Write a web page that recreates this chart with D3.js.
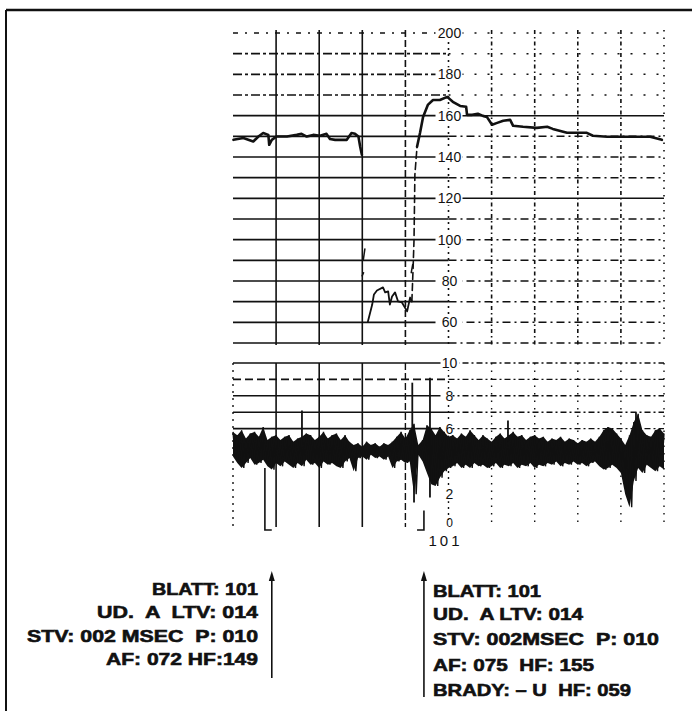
<!DOCTYPE html>
<html lang="de">
<head>
  <meta charset="UTF-8">
  <title>CTG Blatt 101</title>
  <style>
    body {
      margin: 0;
      padding: 0;
      background: #fff;
    }

    svg {
      display: block;
    }

    .lbl {
      font-family: "Liberation Sans", Arial, sans-serif;
      font-size: 14px;
      fill: #111;
    }

    .info {
      font-family: "Liberation Sans", Arial, sans-serif;
      font-weight: bold;
      font-size: 17px;
      fill: #111;
      stroke: #111;
      stroke-width: 0.6px;
      white-space: pre;
    }
  </style>
</head>
<body>
  <svg id="ctg" width="692" height="711"></svg>
  <script src="https://d3js.org/d3.v7.min.js"></script>
  <script>
    // time in minutes, one grid box = 1 min
    // FHR (bpm), before the bradycardia
    const fhrLeftT   = [0.01, 0.24, 0.47, 0.59, 0.70, 0.82, 0.84, 0.90, 1.01, 1.25, 1.48, 1.59, 1.71, 1.86, 2.02, 2.17, 2.25, 2.37, 2.64, 2.75, 2.83, 2.91, 2.95, 2.99];
    const fhrLeftBpm = [148.3, 149.2, 147.5, 149.9, 151.6, 150.7, 145.9, 148.3, 149.9, 149.9, 150.7, 151.2, 149.9, 150.7, 150.3, 151.2, 148.7, 148.3, 148.3, 151.6, 151.2, 149.9, 145.1, 141.1];

    // bradycardia episode
    const bradyT   = [3.13, 3.23, 3.27, 3.34, 3.48, 3.53, 3.60, 3.64, 3.69, 3.76, 3.83, 3.92, 4.04, 4.11, 4.15];
    const bradyBpm = [60.4, 68.6, 73.5, 75.4, 76.9, 74.5, 75.0, 68.6, 72.5, 74.5, 70.1, 69.6, 65.3, 72.0, 70.1];

    // recovery (dashed part of the rise)
    const riseT   = [4.15, 4.18, 4.20, 4.22, 4.27];
    const riseBpm = [70.1, 87.0, 100.0, 131.4, 145.0];

    // FHR after recovery
    const fhrRightT   = [4.27, 4.34, 4.41, 4.52, 4.64, 4.80, 4.97, 5.10, 5.27, 5.41, 5.43, 5.55, 5.68, 5.80, 5.89, 6.01, 6.13, 6.27, 6.43, 6.50, 6.73, 7.05, 7.29, 7.42, 7.75, 7.98, 8.21, 8.35, 8.68, 9.14, 9.68, 9.95];
    const fhrRightBpm = [145.0, 151.7, 159.4, 165.2, 167.6, 167.6, 169.1, 166.7, 164.7, 164.3, 160.4, 160.4, 160.9, 159.9, 159.4, 155.6, 156.5, 157.5, 158.0, 155.1, 154.6, 154.1, 154.6, 153.6, 151.7, 151.7, 151.7, 150.3, 149.8, 149.8, 149.8, 148.3];

    // stray artefact strokes [t, bpm from, bpm to]
    const fhrArtefacts = [[3.06, 95.5, 90.5], [3.03, 84.0, 82.5], [4.17, 88.0, 84.0]];

    // short term variation band, one sample every 0.1 min
    const stvHi = [5.8, 5.6, 5.9, 5.4, 5.7, 5.8, 5.5, 6.1, 5.3, 5.5,
                   5.6, 5.3, 5.5, 5.6, 5.2, 5.4, 5.5, 5.7, 5.6, 5.3,
                   5.5, 5.8, 5.4, 5.6, 5.7, 5.3, 5.6, 5.2, 5.0, 5.1,
                   4.9, 5.2, 5.0, 5.1, 4.9, 5.1, 5.0, 5.2, 5.5, 5.8,
                   5.4, 5.9, 6.3, 5.0, 5.3, 6.2, 6.0, 5.6, 6.1, 5.8,
                   5.5, 5.6, 5.4, 5.7, 5.5, 5.9, 5.6, 5.3, 5.6, 5.4,
                   5.2, 5.5, 5.7, 5.4, 5.6, 5.8, 5.5, 5.6, 5.3, 5.5,
                   5.6, 5.4, 5.5, 5.2, 5.4, 5.3, 5.5, 5.2, 5.4, 5.3,
                   5.1, 5.3, 5.2, 5.4, 5.2, 5.5, 5.9, 6.1, 6.0, 5.7,
                   5.4, 5.0, 5.6, 6.4, 6.9, 5.9, 5.6, 5.5, 5.9, 6.0,
                   5.7];
    const stvLo = [4.3, 3.9, 3.6, 3.9, 4.2, 3.8, 3.9, 4.1, 3.7, 3.5,
                   3.9, 3.7, 4.0, 3.8, 3.6, 3.9, 3.7, 4.1, 3.8, 3.9,
                   3.6, 4.0, 3.8, 3.9, 3.7, 3.6, 4.0, 4.2, 3.4, 4.2,
                   4.3, 4.1, 4.4, 4.2, 4.3, 4.1, 4.3, 3.6, 4.0, 4.1,
                   3.9, 4.0, 2.0, 4.4, 4.0, 3.3, 2.6, 2.5, 3.0, 3.4,
                   3.6, 3.7, 3.9, 3.6, 3.8, 3.6, 3.9, 3.7, 3.8, 3.6,
                   3.7, 3.9, 3.6, 3.8, 3.7, 3.9, 3.6, 3.8, 3.7, 3.9,
                   3.6, 3.8, 3.7, 3.9, 3.8, 4.0, 3.7, 3.9, 3.8, 4.0,
                   3.8, 3.9, 3.7, 3.9, 4.0, 3.7, 3.5, 3.6, 3.8, 3.6,
                   3.3, 2.0, 1.2, 2.8, 3.6, 3.3, 3.8, 3.6, 3.4, 3.7,
                   3.5];
    // single spikes [t, from, to]
    const stvSpikes = [[1.60, 5.0, 7.1], [4.16, 5.0, 8.8], [4.20, 1.5, 5.2], [4.57, 1.8, 9.1], [6.38, 5.2, 6.5], [9.35, 5.0, 7.0]];

    // event markers (time of the print-outs)
    const eventT = [0.90, 4.43];

    const fhrLabels = [200, 180, 160, 140, 120, 100, 80, 60];
    const stvLabels = [10, 8, 6, 4, 2, 0];
    const pageNo = '101';

    const leftInfo  = ['BLATT: 101', 'UD.  A  LTV: 014', 'STV: 002 MSEC  P: 010', 'AF: 072 HF:149'];
    const rightInfo = ['BLATT: 101', 'UD.  A LTV: 014', 'STV: 002MSEC  P: 010', 'AF: 075  HF: 155', 'BRADY: \u2013 U  HF: 059'];

    // layout
    const leftInfoW = [106, 161, 231, 152];
    const leftInfoY = [595, 618, 642, 665];
    const rightInfoW = [108, 150, 226, 161, 198];
    const rightInfoY = [597, 620, 645, 671, 696];
    const ink = '#111';

    const svg = d3.select('#ctg');

    const x = d3.scaleLinear().domain([0, 10]).range([233, 664]);
    const yFhr = d3.scaleLinear().domain([50, 200]).range([343, 33]);
    const yStv = d3.scaleLinear().domain([0, 10]).range([527, 363]);

    // frame
    svg.append('line').attr('x1', 6).attr('x2', 692).attr('y1', 10).attr('y2', 10)
      .attr('stroke', ink).attr('stroke-width', 2.5);
    svg.append('line').attr('x1', 6).attr('x2', 6).attr('y1', 10).attr('y2', 711)
      .attr('stroke', ink).attr('stroke-width', 2);

    // ---- upper grid (FHR)
    const grid = svg.append('g').attr('stroke', ink).attr('fill', 'none');

    const fhrLeftDash = v => v === 200 ? '5,7,2,7' : v > 160 ? '9,3,3,3' : null;
    const fhrRightDash = v => (v === 160 || v === 120) ? null : v >= 170 ? '2,11' : '8,4,2,4';

    yFhr.ticks(15).forEach(v => {
      grid.append('line')
        .attr('x1', x(0)).attr('x2', x(5))
        .attr('y1', yFhr(v)).attr('y2', yFhr(v))
        .attr('stroke-width', 1.6)
        .attr('stroke-dasharray', fhrLeftDash(v));
      grid.append('line')
        .attr('x1', x(5)).attr('x2', x(10))
        .attr('y1', yFhr(v)).attr('y2', yFhr(v))
        .attr('stroke-width', 1.5)
        .attr('stroke-dasharray', fhrRightDash(v));
    });

    const vDash = t => t <= 3 ? null : t === 4 ? '7,3' : t === 5 ? '2,4' : t === 10 ? '1.5,6' : '4,3,1.5,3';

    d3.range(1, 11).forEach(t => {
      grid.append('line')
        .attr('x1', x(t)).attr('x2', x(t))
        .attr('y1', yFhr(201.5)).attr('y2', yFhr(49))
        .attr('stroke-width', 1.6)
        .attr('stroke-dasharray', vDash(t));
    });

    // ---- lower grid (variation)
    [6, 7, 8, 9, 10].forEach(v => {
      grid.append('line')
        .attr('x1', x(0)).attr('x2', x(5))
        .attr('y1', yStv(v)).attr('y2', yStv(v))
        .attr('stroke-width', 1.6)
        .attr('stroke-dasharray', v === 9 ? '8,4' : null);
      grid.append('line')
        .attr('x1', x(5)).attr('x2', x(10))
        .attr('y1', yStv(v)).attr('y2', yStv(v))
        .attr('stroke-width', 1.4)
        .attr('stroke-dasharray', '6,3,2,3');
    });

    const vDashLow = t => t === 0 ? '2,5' : t <= 3 ? null : t === 4 ? '7,3' : t === 5 ? '2,4' : '1.5,6';

    d3.range(0, 11).forEach(t => {
      grid.append('line')
        .attr('x1', x(t)).attr('x2', x(t))
        .attr('y1', yStv(10)).attr('y2', yStv(0))
        .attr('stroke-width', t <= 3 && t > 0 ? 1.6 : 1.4)
        .attr('stroke-dasharray', vDashLow(t));
    });

    // ---- axis labels on the centre line
    const labels = svg.append('g');

    fhrLabels.forEach(v => {
      labels.append('rect')
        .attr('x', x(5) - 13).attr('y', yFhr(v) - 7)
        .attr('width', 27).attr('height', 14)
        .attr('fill', '#fff');
      labels.append('text')
        .attr('class', 'lbl')
        .attr('x', x(5) + 1).attr('y', yFhr(v))
        .attr('dy', '0.36em')
        .attr('text-anchor', 'middle')
        .text(v);
    });

    stvLabels.forEach(v => {
      labels.append('rect')
        .attr('x', x(5) - 8).attr('y', yStv(v) - 7)
        .attr('width', v === 10 ? 19 : 12).attr('height', 14)
        .attr('fill', '#fff');
      labels.append('text')
        .attr('class', 'lbl')
        .attr('x', x(5) + 1).attr('y', yStv(v) - (v === 0 ? 4 : 0))
        .attr('dy', '0.36em')
        .attr('text-anchor', 'middle')
        .style('font-size', v === 0 ? '12px' : null)
        .text(v);
    });

    labels.append('text')
      .attr('class', 'lbl')
      .attr('x', x(5) - 3).attr('y', yStv(0) + 19)
      .attr('text-anchor', 'middle')
      .attr('letter-spacing', 3)
      .style('font-size', '15px')
      .text(pageNo);

    // ---- FHR trace
    const line = d3.line()
      .x(d => x(d[0]))
      .y(d => yFhr(d[1]));

    const traces = svg.append('g').attr('fill', 'none').attr('stroke', ink)
      .attr('stroke-linejoin', 'round').attr('stroke-linecap', 'round');

    traces.append('path')
      .datum(d3.zip(fhrLeftT, fhrLeftBpm))
      .attr('d', line)
      .attr('stroke-width', 2.6);

    traces.append('path')
      .datum(d3.zip(bradyT, bradyBpm))
      .attr('d', line)
      .attr('stroke-width', 1.8);

    traces.append('path')
      .datum(d3.zip(riseT, riseBpm))
      .attr('d', line)
      .attr('stroke-width', 1.6)
      .attr('stroke-dasharray', '7,4');

    traces.append('path')
      .datum(d3.zip(fhrRightT, fhrRightBpm))
      .attr('d', line)
      .attr('stroke-width', 2.6);

    traces.selectAll('.artefact')
      .data(fhrArtefacts)
      .enter()
      .append('line')
      .attr('class', 'artefact')
      .attr('x1', d => x(d[0])).attr('x2', d => x(d[0]) - 1.5)
      .attr('y1', d => yFhr(d[1])).attr('y2', d => yFhr(d[2]))
      .attr('stroke-width', 1.5);

    // ---- variation band
    const band = d3.area()
      .x((d, i) => x(i * 0.1))
      .y0((d, i) => yStv(stvLo[i]))
      .y1(d => yStv(d));

    svg.append('path')
      .datum(stvHi)
      .attr('d', band)
      .attr('fill', ink);

    const zig = [];
    stvHi.forEach((h, i) => {
      zig.push([i * 0.1, h]);
      if (i < stvHi.length - 1) zig.push([i * 0.1 + 0.05, stvLo[i]]);
    });

    svg.append('path')
      .datum(zig)
      .attr('d', d3.line().x(d => x(d[0])).y(d => yStv(d[1])))
      .attr('fill', 'none')
      .attr('stroke', ink)
      .attr('stroke-width', 1.4);

    svg.selectAll('.spike')
      .data(stvSpikes)
      .enter()
      .append('line')
      .attr('class', 'spike')
      .attr('x1', d => x(d[0])).attr('x2', d => x(d[0]))
      .attr('y1', d => yStv(d[1])).attr('y2', d => yStv(d[2]))
      .attr('stroke', ink)
      .attr('stroke-width', 1.8);

    // event brackets at the bottom of the variation strip
    const ev = svg.append('g').attr('fill', 'none').attr('stroke', ink).attr('stroke-width', 1.6);
    ev.append('path')
      .attr('d', `M${x(eventT[0] - 0.16)},${yStv(3.6)} V${yStv(-0.18)} H${x(eventT[0])}`);
    ev.append('path')
      .attr('d', `M${x(eventT[1])},${yStv(1.0)} V${yStv(-0.18)} H${x(eventT[1] - 0.16)}`);

    // ---- print-out blocks with arrows
    const arrows = svg.append('g').attr('stroke', ink).attr('fill', ink);
    [[eventT[0], 678], [eventT[1], 697]].forEach(([t, yEnd]) => {
      arrows.append('line')
        .attr('x1', x(t)).attr('x2', x(t))
        .attr('y1', 578).attr('y2', yEnd)
        .attr('stroke-width', 1.6);
      arrows.append('path')
        .attr('d', `M${x(t)},571 L${x(t) - 3},581 L${x(t) + 3},581 Z`)
        .attr('stroke', 'none');
    });

    svg.selectAll('.info-left')
      .data(leftInfo)
      .enter()
      .append('text')
      .attr('class', 'info info-left')
      .attr('x', 258)
      .attr('y', (d, i) => leftInfoY[i])
      .attr('text-anchor', 'end')
      .attr('textLength', (d, i) => leftInfoW[i])
      .attr('lengthAdjust', 'spacingAndGlyphs')
      .text(d => d);

    svg.selectAll('.info-right')
      .data(rightInfo)
      .enter()
      .append('text')
      .attr('class', 'info info-right')
      .attr('x', 433)
      .attr('y', (d, i) => rightInfoY[i])
      .attr('textLength', (d, i) => rightInfoW[i])
      .attr('lengthAdjust', 'spacingAndGlyphs')
      .text(d => d);
  </script>
</body>
</html>
